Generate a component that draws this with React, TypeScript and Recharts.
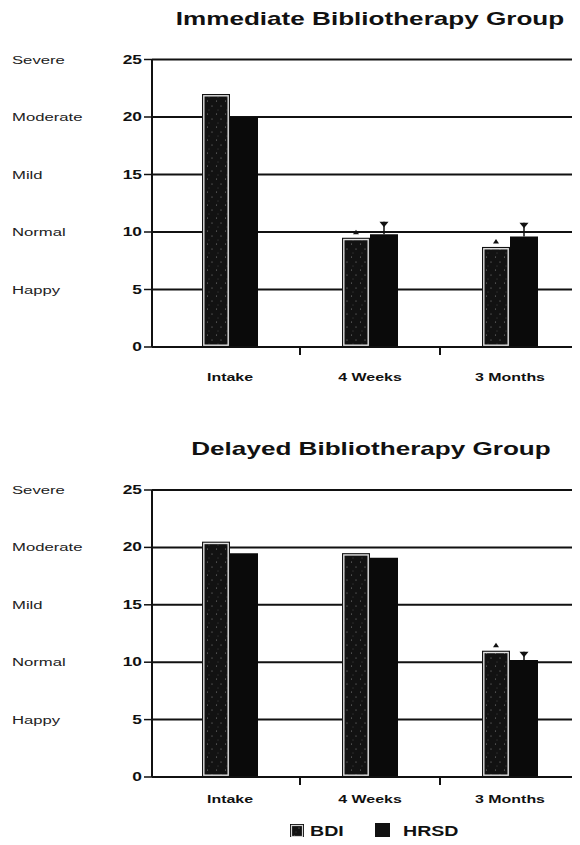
import { BarChart, Bar, XAxis, YAxis, CartesianGrid, LabelList, Legend } from 'recharts'

const categories = ['Intake', '4 Weeks', '3 Months']
const yTicks = [0, 5, 10, 15, 20, 25]
const severityLabels = ['', 'Happy', 'Normal', 'Mild', 'Moderate', 'Severe']

const immediateBdi = [22, 9.5, 8.7]
const immediateHrsd = [20, 9.8, 9.6]
const immediateBdiErr = [0, 0.7, 0.7]
const immediateHrsdErr = [0, 1.1, 1.2]

const delayedBdi = [20.5, 19.5, 11]
const delayedHrsd = [19.5, 19.1, 10.2]
const delayedBdiErr = [0, 0, 0.7]
const delayedHrsdErr = [0, 0, 0.7]

const SX = 1.45 // the scan is stretched sideways
const BAND_HALF = 70
const FONT = 'Arial, "Liberation Sans", sans-serif'

function buildData(bdi: number[], hrsd: number[], bdiErr: number[], hrsdErr: number[]) {
  return categories.map((name, i) => ({
    name,
    bdi: bdi[i],
    hrsd: hrsd[i],
    bdiErr: bdiErr[i],
    hrsdErr: hrsdErr[i],
  }))
}

function YTick(props: any) {
  const { x, y, payload } = props
  const label = severityLabels[yTicks.indexOf(payload.value)]
  return (
    <g>
      <text
        transform={`translate(${x},${y + 4}) scale(${SX},1)`}
        textAnchor="end"
        fontSize={12}
        fontWeight="bold"
        fill="#111"
      >
        {payload.value}
      </text>
      {label && (
        <text transform={`translate(4,${y + 4}) scale(${SX},1)`} fontSize={11.5} fill="#222">
          {label}
        </text>
      )}
    </g>
  )
}

function makeXTick(dy: number) {
  return (props: any) => {
    const { x, y, payload, index } = props
    return (
      <g>
        {index > 0 && (
          <line x1={x - BAND_HALF} x2={x - BAND_HALF} y1={y} y2={y + 8} stroke="#111" strokeWidth={2} />
        )}
        <text
          transform={`translate(${x},${y + dy}) scale(${SX},1)`}
          textAnchor="middle"
          fontSize={11}
          fontWeight="bold"
          fill="#111"
        >
          {payload.value}
        </text>
      </g>
    )
  }
}

function makeBdiShape(patternId: string) {
  return (props: any) => {
    const { x, y, width, height } = props
    if (!height || height <= 0) return <g />
    return (
      <g>
        <rect x={x} y={y} width={width} height={height} fill="#111" />
        <rect
          x={x + 1.8}
          y={y + 1.8}
          width={width - 3.6}
          height={height - 3.6}
          fill={`url(#${patternId})`}
          stroke="#e2e2e2"
          strokeWidth={1.4}
        />
      </g>
    )
  }
}

function makeMark(kind: 'up' | 'down', values: number[], errs: number[]) {
  return (props: any) => {
    const vb = props.viewBox ?? props
    const { x, y, width, height } = vb
    const i = props.index
    const err = errs[i]
    if (!err || !height) return null
    const px = (err * height) / values[i]
    const cx = x + width / 2
    const top = y - px
    if (kind === 'up') {
      return (
        <polygon
          points={`${cx - 3},${top + 4.5} ${cx + 3},${top + 4.5} ${cx},${top}`}
          fill="#111"
        />
      )
    }
    return (
      <g>
        <line x1={cx} x2={cx} y1={top} y2={y} stroke="#111" strokeWidth={1.5} />
        <polygon points={`${cx - 4.5},${top} ${cx + 4.5},${top} ${cx},${top + 5.5}`} fill="#111" />
      </g>
    )
  }
}

function Speckle({ id }: { id: string }) {
  return (
    <pattern id={id} width="9" height="13" patternUnits="userSpaceOnUse">
      <rect width="9" height="13" fill="#121212" />
      <circle cx="1.5" cy="2" r="0.55" fill="#8a8a8a" />
      <circle cx="6" cy="7" r="0.5" fill="#a0a0a0" />
      <circle cx="3" cy="11" r="0.45" fill="#707070" />
    </pattern>
  )
}

function LegendContent() {
  return (
    <svg width={440} height={20} style={{ display: 'block' }}>
      <rect x={132} y={3} width={14} height={14} fill="#111" />
      <rect x={133.5} y={4.5} width={11} height={11} fill="url(#speckleB)" stroke="#d6d6d6" strokeWidth={1.2} />
      <text
        transform={`translate(152,15) scale(1.4,1)`}
        fontSize={14}
        fontWeight="bold"
        fill="#111"
        fontFamily={FONT}
      >
        BDI
      </text>
      <rect x={217} y={2} width={15} height={15} fill="#111" />
      <text
        transform={`translate(245,15) scale(1.4,1)`}
        fontSize={14}
        fontWeight="bold"
        fill="#111"
        fontFamily={FONT}
      >
        HRSD
      </text>
    </svg>
  )
}

function Title({ text, x, y }: { text: string; x: number; y: number }) {
  return (
    <svg width={572} height={40} style={{ position: 'absolute', left: 0, top: 0, pointerEvents: 'none' }}>
      <text
        transform={`translate(${x},${y}) scale(${SX},1)`}
        textAnchor="middle"
        fontSize={18}
        fontWeight="bold"
        fill="#111"
        fontFamily={FONT}
      >
        {text}
      </text>
    </svg>
  )
}

interface PanelProps {
  data: ReturnType<typeof buildData>
  bdi: number[]
  hrsd: number[]
  bdiErr: number[]
  hrsdErr: number[]
  patternId: string
  height: number
  margin: { top: number; right: number; bottom: number; left: number }
  xAxisHeight: number
  labelDy: number
  legend?: boolean
}

function Panel(p: PanelProps) {
  return (
    <BarChart
      width={572}
      height={p.height}
      data={p.data}
      margin={p.margin}
      barSize={28}
      barGap={0}
      style={{ fontFamily: FONT }}
    >
      <defs>
        <Speckle id={p.patternId} />
      </defs>
      <CartesianGrid vertical={false} stroke="#111" strokeWidth={2} />
      <XAxis
        dataKey="name"
        height={p.xAxisHeight}
        padding={{ left: 8, right: 0 }}
        axisLine={{ stroke: '#111', strokeWidth: 2 }}
        tickLine={false}
        tickSize={0}
        tickMargin={0}
        tick={makeXTick(p.labelDy)}
        interval={0}
      />
      <YAxis
        width={144}
        domain={[0, 25]}
        ticks={yTicks}
        interval={0}
        axisLine={{ stroke: '#111', strokeWidth: 2 }}
        tickLine={{ stroke: '#111', strokeWidth: 1.5 }}
        tickSize={8}
        tickMargin={2}
        tick={<YTick />}
      />
      {p.legend && (
        <Legend
          verticalAlign="bottom"
          content={<LegendContent />}
          wrapperStyle={{ left: 150, width: 440, top: 391, bottom: 'auto' }}
        />
      )}
      <Bar dataKey="bdi" name="BDI" fill="#1b1b1b" shape={makeBdiShape(p.patternId)} isAnimationActive={false}>
        <LabelList dataKey="bdiErr" content={makeMark('up', p.bdi, p.bdiErr)} />
      </Bar>
      <Bar dataKey="hrsd" name="HRSD" fill="#0a0a0a" isAnimationActive={false}>
        <LabelList dataKey="hrsdErr" content={makeMark('down', p.hrsd, p.hrsdErr)} />
      </Bar>
    </BarChart>
  )
}

export default function App() {
  const immediateData = buildData(immediateBdi, immediateHrsd, immediateBdiErr, immediateHrsdErr)
  const delayedData = buildData(delayedBdi, delayedHrsd, delayedBdiErr, delayedHrsdErr)
  return (
    <div style={{ position: 'relative', width: 572, height: 829, fontFamily: FONT, background: '#fff' }}>
      <div style={{ position: 'absolute', left: 0, top: 0 }}>
        <Panel
          data={immediateData}
          bdi={immediateBdi}
          hrsd={immediateHrsd}
          bdiErr={immediateBdiErr}
          hrsdErr={immediateHrsdErr}
          patternId="speckleA"
          height={385}
          margin={{ top: 51.5, right: 0, bottom: 16, left: 0 }}
          xAxisHeight={30}
          labelDy={34}
        />
        <Title text="Immediate Bibliotherapy Group" x={362} y={17} />
      </div>
      <div style={{ position: 'absolute', left: 0, top: 422 }}>
        <Panel
          data={delayedData}
          bdi={delayedBdi}
          hrsd={delayedHrsd}
          bdiErr={delayedBdiErr}
          hrsdErr={delayedHrsdErr}
          patternId="speckleB"
          height={415}
          margin={{ top: 60, right: 0, bottom: 3, left: 0 }}
          xAxisHeight={45}
          labelDy={26}
          legend
        />
        <Title text="Delayed Bibliotherapy Group" x={363} y={25} />
      </div>
    </div>
  )
}
